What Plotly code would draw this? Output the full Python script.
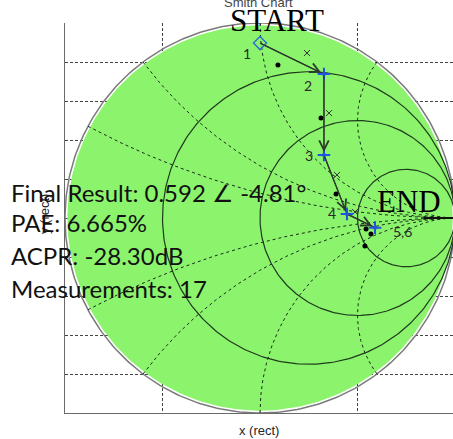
import numpy as np
import plotly.graph_objects as go

# ---------------- data ----------------
# measurement path (reflection coefficient, real / imag)
path_re = [0.000, 0.328, 0.328, 0.446, 0.5899]
path_im = [0.897, 0.738, 0.323, 0.021, -0.0496]
path_labels = ["1", "2", "3", "4", "5,6"]

# neighbour measurements (black dots)
dot_re = [0.092, 0.313, 0.390, 0.544, 0.569, 0.538]
dot_im = [0.785, 0.513, 0.123, -0.056, -0.082, -0.144]

# neighbour measurements (x marks)
x_re = [0.241, 0.354, 0.395, 0.487]
x_im = [0.846, 0.538, 0.221, 0.031]

# Smith chart grid values
r_circles = [1 / 3, 1.0, 3.0]
x_arcs = [0.25, 0.5, 1.0, 2.0, -0.25, -0.5, -1.0, -2.0]

summary_lines = ["Final Result: 0.592 \u2220 -4.81\u00b0", "PAE: 6.665%",
                 "ACPR: -28.30dB", "Measurements: 17"]

# ---------------- layout geometry ----------------
W, H = 453, 439
ML, MR, MT, MB = 65, 0, 23, 26
PW, PH = W - ML - MR, H - MT - MB
XR = [-1.0, -1.0 + PW / 195.0]
YR = [-1.0, 1.0]


def px2paper(px, py):
    return (px - ML) / PW, (H - MB - py) / PH


fig = go.Figure()

# green disk
th = np.linspace(0, 2 * np.pi, 361)
fig.add_trace(go.Scatter(x=0.988 * np.cos(th), y=0.988 * np.sin(th), mode="lines",
                         fill="toself", fillcolor="#8cf46c", line=dict(width=0),
                         hoverinfo="skip", showlegend=False))
# outer circle
fig.add_trace(go.Scatter(x=np.cos(th), y=np.sin(th), mode="lines",
                         line=dict(color="#7a7a7a", width=1.5),
                         hoverinfo="skip", showlegend=False))

# constant resistance circles
for r in r_circles:
    c, rad = r / (1 + r), 1 / (1 + r)
    fig.add_trace(go.Scatter(x=c + rad * np.cos(th), y=rad * np.sin(th), mode="lines",
                             line=dict(color="#1f3a1f", width=1.2),
                             hoverinfo="skip", showlegend=False))

# constant reactance arcs
rs = np.concatenate([[0.0], np.logspace(-3, 3, 500)])
for xv in x_arcs:
    z = rs + 1j * xv
    g = (z - 1) / (z + 1)
    fig.add_trace(go.Scatter(x=g.real, y=g.imag, mode="lines",
                             line=dict(color="#1a2a1a", width=1, dash="3px,3px"),
                             hoverinfo="skip", showlegend=False))

# short real-axis segment near the open-circuit point
fig.add_trace(go.Scatter(x=[0.84, 1.0], y=[0, 0], mode="lines",
                         line=dict(color="#111", width=2),
                         hoverinfo="skip", showlegend=False))

# path connecting lines
fig.add_trace(go.Scatter(x=path_re, y=path_im, mode="lines",
                         line=dict(color="#2d3b2d", width=1.3),
                         hoverinfo="skip", showlegend=False))

# x marks
fig.add_trace(go.Scatter(x=x_re, y=x_im, mode="markers",
                         marker=dict(symbol="x-thin-open", size=6, color="#333",
                                     line=dict(color="#333", width=1)),
                         hoverinfo="skip", showlegend=False))
# dots
fig.add_trace(go.Scatter(x=dot_re, y=dot_im, mode="markers",
                         marker=dict(symbol="circle", size=5, color="#000"),
                         hoverinfo="skip", showlegend=False))
# start marker
fig.add_trace(go.Scatter(x=path_re[:1], y=path_im[:1], mode="markers",
                         marker=dict(symbol="diamond-open", size=10, color="#2f6fd0",
                                     line=dict(color="#2f6fd0", width=1.5)),
                         hoverinfo="skip", showlegend=False))
# other path markers
fig.add_trace(go.Scatter(x=path_re[1:], y=path_im[1:], mode="markers",
                         marker=dict(symbol="cross-thin-open", size=9, color="#2255dd",
                                     line=dict(color="#2255dd", width=2)),
                         hoverinfo="skip", showlegend=False))
fig.add_trace(go.Scatter(x=path_re[1:], y=path_im[1:], mode="markers",
                         marker=dict(symbol="circle", size=4, color="#2255dd"),
                         hoverinfo="skip", showlegend=False))

ann = []
# arrows
for i in range(len(path_re) - 1):
    ann.append(dict(x=path_re[i + 1], y=path_im[i + 1], ax=path_re[i], ay=path_im[i],
                    xref="x", yref="y", axref="x", ayref="y", text="",
                    showarrow=True, arrowhead=5, arrowsize=1.7, arrowwidth=1.1,
                    arrowcolor="#2d3b2d", standoff=3))
# point labels
label_shift = [(-13, -10), (-16, -11), (-15, 0), (-15, 0), (27, -4)]
for lab, xv, yv, (dx, dy) in zip(path_labels, path_re, path_im, label_shift):
    ann.append(dict(x=xv, y=yv, xref="x", yref="y", text=lab, showarrow=False,
                    xshift=dx, yshift=dy,
                    font=dict(family="Lato, Open Sans, sans-serif", size=14, color="#2a2a2a")))

# overlay text START / END
px, py = px2paper(277, 20)
ann.append(dict(x=px, y=py, xref="paper", yref="paper", text="START", showarrow=False,
                xanchor="center", yanchor="middle",
                font=dict(family="Liberation Serif, Times New Roman, serif", size=31, color="#000")))
px, py = px2paper(409, 201)
ann.append(dict(x=px, y=py, xref="paper", yref="paper", text="END", showarrow=False,
                xanchor="center", yanchor="middle",
                font=dict(family="Liberation Serif, Times New Roman, serif", size=31, color="#000")))

# partially hidden title
px, py = px2paper(258, 3)
ann.append(dict(x=px, y=py, xref="paper", yref="paper", text="Smith Chart", showarrow=False,
                xanchor="center", yanchor="middle",
                font=dict(family="Liberation Sans, Arial, sans-serif", size=13, color="#444")))

# axis titles
px, py = px2paper(259, 430)
ann.append(dict(x=px, y=py, xref="paper", yref="paper", text="x (rect)", showarrow=False,
                xanchor="center", yanchor="middle",
                font=dict(family="Liberation Sans, Arial, sans-serif", size=13, color="#262626")))
px, py = px2paper(44, 214)
ann.append(dict(x=px, y=py, xref="paper", yref="paper", text="y (rect)", showarrow=False,
                xanchor="center", yanchor="middle", textangle=-90,
                font=dict(family="Liberation Sans, Arial, sans-serif", size=13, color="#262626")))

# summary text block
for txt, ycen in zip(summary_lines, [192, 223, 255, 288]):
    px, py = px2paper(9, ycen)
    ann.append(dict(x=px, y=py, xref="paper", yref="paper", text=txt, showarrow=False,
                    xanchor="left", yanchor="middle",
                    font=dict(family="Lato, Open Sans, sans-serif", size=24, color="#111")))

grid = dict(showgrid=True, gridcolor="#444", gridwidth=1, griddash="3px,2px",
            zeroline=False, showticklabels=False, ticks="", showline=True,
            linecolor="#6a6a6a", linewidth=1.2, mirror=False)

fig.update_layout(
    width=W, height=H, margin=dict(l=ML, r=MR, t=MT, b=MB, pad=0),
    paper_bgcolor="white", plot_bgcolor="white", showlegend=False,
    xaxis=dict(range=XR, dtick=0.5, tick0=0, **grid),
    yaxis=dict(range=YR, dtick=0.2, tick0=0, **grid),
    annotations=ann,
)

fig.write_html("out.html", config=dict(displayModeBar=False),
               post_script="document.body.style.margin='0';")
